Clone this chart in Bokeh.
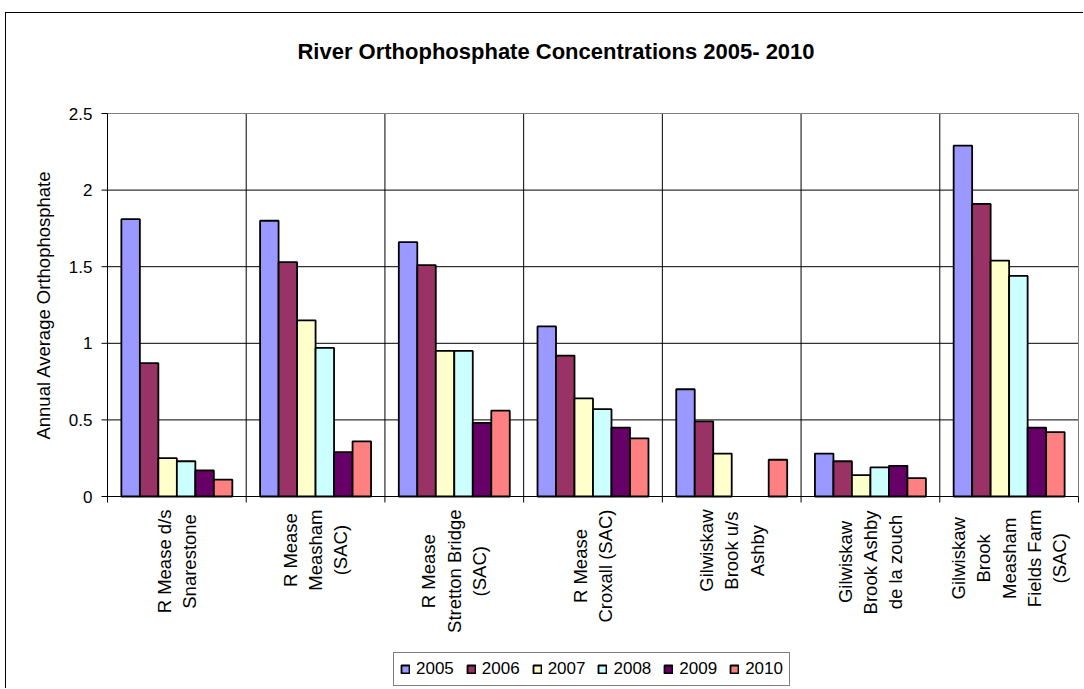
import math
from bokeh.plotting import figure
from bokeh.models import Range1d, Legend, LegendItem, ColumnDataSource
from bokeh.core.properties import value
from bokeh.embed import file_html
from bokeh.resources import INLINE

# ---- data ----
site_lines = [
    ["R Mease d/s", "Snarestone"],
    ["R Mease", "Measham", "(SAC)"],
    ["R Mease", "Stretton Bridge", "(SAC)"],
    ["R Mease", "Croxall (SAC)"],
    ["Gilwiskaw", "Brook u/s", "Ashby"],
    ["Gilwiskaw", "Brook Ashby", "de la zouch"],
    ["Gilwiskaw", "Brook", "Measham", "Fields Farm", "(SAC)"],
]
years = ["2005", "2006", "2007", "2008", "2009", "2010"]
v2005 = [1.81, 1.80, 1.66, 1.11, 0.70, 0.28, 2.29]
v2006 = [0.87, 1.53, 1.51, 0.92, 0.49, 0.23, 1.91]
v2007 = [0.25, 1.15, 0.95, 0.64, 0.28, 0.14, 1.54]
v2008 = [0.23, 0.97, 0.95, 0.57, None, 0.19, 1.44]
v2009 = [0.17, 0.29, 0.48, 0.45, None, 0.20, 0.45]
v2010 = [0.11, 0.36, 0.56, 0.38, 0.24, 0.12, 0.42]
series = [v2005, v2006, v2007, v2008, v2009, v2010]
colors = ["#9999FF", "#993366", "#FFFFCC", "#CCFFFF", "#660066", "#FF8080"]
y_ticks = [0, 0.5, 1, 1.5, 2, 2.5]
y_tick_labels = ["0", "0.5", "1", "1.5", "2", "2.5"]
title_text = "River Orthophosphate Concentrations 2005- 2010"
y_label = "Annual Average Orthophosphate"

FONT = "Liberation Sans"
F = value(FONT)
W, H = 1078, 676                  # canvas (placed at page x=6, y=13)
PL, PR, PT, PB = 101, 1072, 100, 483   # plot area in canvas pixels
n_cat = len(site_lines)
n_ser = len(series)
y_max = 2.5
ppx = (PR - PL) / n_cat
ppy = (PB - PT) / y_max
bw = 0.8 / n_ser

p = figure(width=W, height=H,
           x_range=Range1d(-PL / ppx, n_cat + (W - PR) / ppx),
           y_range=Range1d(-(H - PB) / ppy, y_max + PT / ppy),
           output_backend="svg", toolbar_location=None,
           x_axis_type=None, y_axis_type=None,
           min_border=0, min_border_left=0, min_border_right=0,
           min_border_top=0, min_border_bottom=0)
p.styles = {"margin-left": "5px", "margin-top": "12px",
            "border-left": "1px solid #000000", "border-top": "1px solid #000000"}
p.background_fill_color = "white"
p.border_fill_color = "white"
p.outline_line_color = None
p.xgrid.visible = False
p.ygrid.visible = False

# grid lines
inner_y = [t for t in y_ticks if 0 < t < y_max]
p.segment(x0=[0] * len(inner_y), x1=[n_cat] * len(inner_y), y0=inner_y, y1=inner_y,
          line_color="black", line_width=1)
inner_x = list(range(1, n_cat))
p.segment(x0=inner_x, x1=inner_x, y0=[0] * len(inner_x), y1=[y_max] * len(inner_x),
          line_color="black", line_width=1)
# plot-area outline (top/right grey)
p.segment(x0=[0, n_cat], x1=[n_cat, n_cat], y0=[y_max, 0], y1=[y_max, y_max],
          line_color="#808080", line_width=1)

# bars
items = []
for j, (yr, vals, col) in enumerate(zip(years, series, colors)):
    xs = [i + 0.5 + (j - (n_ser - 1) / 2) * bw for i, v in enumerate(vals) if v is not None]
    tops = [v for v in vals if v is not None]
    src = ColumnDataSource(dict(x=xs, top=tops))
    r = p.vbar(x="x", top="top", bottom=0, width=bw, source=src, fill_color=col,
               line_color="black", line_width=1.8)
    items.append(LegendItem(label=yr, renderers=[r]))

# axes lines and ticks
p.segment(x0=[0, 0], x1=[0, n_cat], y0=[0, 0], y1=[y_max, 0], line_color="black", line_width=1)
TICK = 6
p.segment(x0=[-TICK / ppx] * len(y_ticks), x1=[0] * len(y_ticks), y0=y_ticks, y1=y_ticks,
          line_color="black", line_width=1)
bx = list(range(n_cat + 1))
p.segment(x0=bx, x1=bx, y0=[0] * len(bx), y1=[-TICK / ppy] * len(bx),
          line_color="black", line_width=1)

# y tick labels
p.text(x=[0] * len(y_ticks), y=y_ticks, text=y_tick_labels, x_offset=-15,
       text_align="right", text_baseline="middle", text_font=F,
       text_font_size="17px", text_color="black")
# y axis title
p.text(x=[0], y=[y_max / 2], text=[y_label], x_offset=-64, angle=math.pi / 2,
       text_align="center", text_baseline="middle", text_font=F,
       text_font_size="18.5px", text_color="black")

# category labels (rotated, centred lines)
AW = {" ": 278, "(": 333, ")": 333, "/": 278, "A": 667, "B": 667, "C": 722, "F": 611,
      "G": 778, "M": 833, "R": 722, "S": 667, "a": 556, "b": 556, "c": 500, "d": 556,
      "e": 556, "g": 556, "h": 556, "i": 222, "k": 500, "l": 222, "m": 833, "n": 556,
      "o": 556, "r": 333, "s": 500, "t": 278, "u": 556, "w": 722, "x": 500, "y": 500,
      "z": 500}
CAT_FS = 18.5
LINE_STEP = 25.3
PAD = 13


def tw(s, fs):
    return sum(AW.get(c, 556) for c in s) / 1000.0 * fs


lx, ly, lt, lo = [], [], [], []
for i, lines in enumerate(site_lines):
    lmax = max(tw(s, CAT_FS) for s in lines)
    yc = -(PAD + lmax / 2) / ppy
    n = len(lines)
    for k, s in enumerate(lines):
        lx.append(i + 0.5)
        ly.append(yc)
        lt.append(s)
        lo.append((k - (n - 1) / 2) * LINE_STEP)
p.text(x=lx, y=ly, text=lt, x_offset=lo, angle=math.pi / 2, text_align="center",
       text_baseline="middle", text_font=F, text_font_size=f"{CAT_FS}px",
       text_color="black")

# chart title
p.text(x=[n_cat / 2], y=[y_max + (PT - 38) / ppy], text=[title_text], x_offset=-37,
       text_align="center", text_baseline="alphabetic", text_font=F,
       text_font_size="22px", text_font_style="bold", text_color="black")

legend = Legend(items=items, orientation="horizontal", location=(387, 3))
legend.label_text_font = FONT
legend.label_text_font_size = "17px"
legend.label_text_color = "black"
legend.glyph_width = 10
legend.glyph_height = 10
legend.label_standoff = 6
legend.spacing = 12
legend.padding = 6
legend.margin = 0
legend.label_height = 20
legend.border_line_color = "black"
legend.border_line_width = 1
legend.background_fill_color = "white"
legend.background_fill_alpha = 1
p.add_layout(legend)

open("out.html", "w").write(file_html(p, INLINE))
